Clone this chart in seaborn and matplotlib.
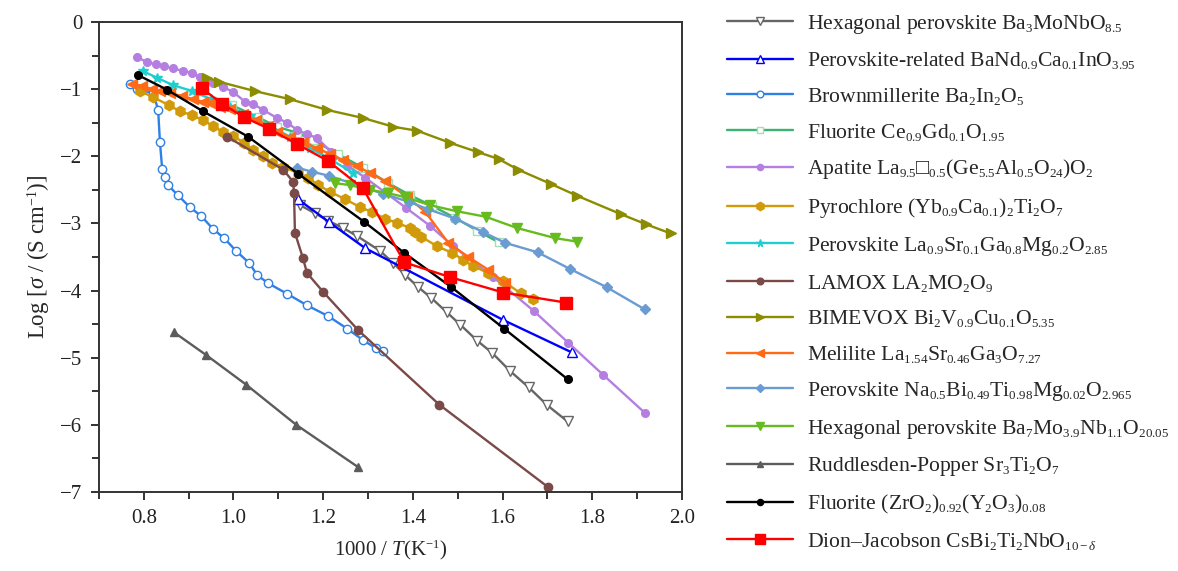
import numpy as np
import pandas as pd
import matplotlib
matplotlib.use("Agg")
import matplotlib.pyplot as plt
import matplotlib._mathtext as mathtext_core
import seaborn as sns

# ---- conductivity data: 1000/T (K^-1) and log10(sigma / S cm^-1) ----
hexp1_x = [1.149, 1.182, 1.211, 1.245, 1.276, 1.327, 1.356, 1.383, 1.412, 1.441,
           1.475, 1.506, 1.544, 1.577, 1.617, 1.658, 1.700, 1.745]
hexp1_y = [-2.73, -2.85, -2.96, -3.07, -3.19, -3.41, -3.59, -3.77, -3.95, -4.11,
           -4.32, -4.51, -4.75, -4.93, -5.20, -5.44, -5.71, -5.95]

bando_x = [1.144, 1.213, 1.294, 1.602, 1.754]
bando_y = [-2.64, -2.98, -3.37, -4.44, -4.92]

brown_x = [0.769, 0.785, 0.821, 0.832, 0.836, 0.841, 0.847, 0.854, 0.876, 0.903,
           0.928, 0.954, 0.979, 1.006, 1.035, 1.053, 1.077, 1.120, 1.164, 1.211,
           1.254, 1.289, 1.318, 1.334]
brown_y = [-0.92, -1.00, -1.06, -1.31, -1.79, -2.19, -2.31, -2.43, -2.58, -2.76,
           -2.89, -3.08, -3.22, -3.41, -3.59, -3.77, -3.89, -4.05, -4.22, -4.38,
           -4.57, -4.74, -4.86, -4.90]

cgo_x = [0.997, 1.055, 1.097, 1.142, 1.178, 1.233, 1.289, 1.345, 1.394, 1.443,
         1.495, 1.544, 1.591]
cgo_y = [-1.24, -1.42, -1.56, -1.65, -1.76, -1.97, -2.17, -2.40, -2.58, -2.74,
         -2.92, -3.11, -3.28]

apat_x = [0.785, 0.807, 0.827, 0.845, 0.865, 0.888, 0.908, 0.925, 0.954, 0.977,
          0.999, 1.026, 1.044, 1.066, 1.097, 1.120, 1.142, 1.164, 1.187, 1.218,
          1.254, 1.294, 1.385, 1.439, 1.490, 1.579, 1.669, 1.747, 1.825, 1.917]
apat_y = [-0.52, -0.60, -0.63, -0.66, -0.69, -0.73, -0.76, -0.82, -0.91, -0.97,
          -1.04, -1.19, -1.22, -1.31, -1.43, -1.50, -1.61, -1.67, -1.73, -1.94,
          -2.14, -2.32, -2.77, -3.04, -3.34, -3.80, -4.30, -4.78, -5.26, -5.82]

pyro_x = [0.792, 0.821, 0.856, 0.881, 0.908, 0.932, 0.954, 0.977, 0.999, 1.024,
          1.044, 1.066, 1.086, 1.111, 1.144, 1.167, 1.189, 1.216, 1.249, 1.283,
          1.309, 1.338, 1.365, 1.394, 1.405, 1.419, 1.454, 1.488, 1.512, 1.533,
          1.568, 1.602, 1.640, 1.667]
pyro_y = [-1.03, -1.12, -1.24, -1.33, -1.39, -1.46, -1.55, -1.64, -1.70, -1.80,
          -1.91, -2.00, -2.10, -2.16, -2.25, -2.32, -2.43, -2.53, -2.64, -2.76,
          -2.83, -2.93, -2.99, -3.07, -3.13, -3.20, -3.34, -3.44, -3.54, -3.63,
          -3.74, -3.86, -4.04, -4.13]

lsgm_x = [0.798, 0.829, 0.865, 0.908, 0.950, 0.992, 1.037, 1.082, 1.126, 1.171,
          1.220, 1.267]
lsgm_y = [-0.73, -0.83, -0.94, -1.03, -1.15, -1.27, -1.40, -1.55, -1.71, -1.88,
          -2.06, -2.25]

lamox_x = [0.986, 1.111, 1.133, 1.135, 1.137, 1.155, 1.164, 1.200, 1.278, 1.459, 1.702]
lamox_y = [-1.71, -2.20, -2.38, -2.55, -3.14, -3.52, -3.74, -4.02, -4.59, -5.70, -6.93]

bime_x = [0.941, 0.968, 1.048, 1.126, 1.209, 1.289, 1.356, 1.410, 1.483, 1.546,
          1.591, 1.635, 1.707, 1.767, 1.863, 1.919, 1.975]
bime_y = [-0.83, -0.89, -1.03, -1.15, -1.31, -1.43, -1.56, -1.62, -1.80, -1.94,
          -2.04, -2.20, -2.41, -2.59, -2.86, -3.01, -3.15]

meli_x = [0.774, 0.796, 0.818, 0.836, 0.858, 0.885, 0.910, 0.932, 0.948, 0.970,
          0.992, 1.021, 1.050, 1.077, 1.097, 1.126, 1.155, 1.187, 1.216, 1.245,
          1.276, 1.305, 1.338, 1.388, 1.428, 1.479, 1.524, 1.568, 1.606]
meli_y = [-0.92, -0.95, -1.00, -1.03, -1.06, -1.10, -1.15, -1.19, -1.21, -1.27,
          -1.30, -1.37, -1.46, -1.55, -1.64, -1.71, -1.79, -1.88, -1.97, -2.06,
          -2.15, -2.25, -2.37, -2.61, -2.83, -3.29, -3.50, -3.69, -3.89]

nbt_x = [1.142, 1.175, 1.213, 1.334, 1.392, 1.434, 1.495, 1.557, 1.606, 1.678,
         1.751, 1.832, 1.917]
nbt_y = [-2.17, -2.23, -2.29, -2.56, -2.68, -2.79, -2.93, -3.13, -3.29, -3.43,
         -3.68, -3.95, -4.28]

hexp2_x = [1.227, 1.260, 1.305, 1.345, 1.383, 1.439, 1.499, 1.562, 1.633, 1.718, 1.765]
hexp2_y = [-2.40, -2.43, -2.50, -2.55, -2.61, -2.73, -2.82, -2.90, -3.07, -3.22, -3.27]

rp_x = [0.867, 0.939, 1.028, 1.140, 1.278]
rp_y = [-4.62, -4.96, -5.40, -6.00, -6.63]

ysz_x = [0.787, 0.852, 0.932, 1.033, 1.144, 1.292, 1.381, 1.486, 1.604, 1.745]
ysz_y = [-0.79, -1.01, -1.33, -1.71, -2.26, -2.98, -3.44, -3.95, -4.57, -5.32]

dj_x = [0.930, 0.975, 1.024, 1.079, 1.142, 1.211, 1.289, 1.381, 1.483, 1.602, 1.742]
dj_y = [-0.99, -1.22, -1.42, -1.59, -1.82, -2.07, -2.48, -3.58, -3.80, -4.03, -4.18]

labels = [
    r"Hexagonal perovskite Ba$_3$MoNbO$_{8.5}$",
    r"Perovskite-related BaNd$_{0.9}$Ca$_{0.1}$InO$_{3.95}$",
    r"Brownmillerite Ba$_2$In$_2$O$_5$",
    r"Fluorite Ce$_{0.9}$Gd$_{0.1}$O$_{1.95}$",
    "Apatite La$_{9.5}$$\u25a1_{0.5}$(Ge$_{5.5}$Al$_{0.5}$O$_{24}$)O$_2$",
    r"Pyrochlore (Yb$_{0.9}$Ca$_{0.1}$)$_2$Ti$_2$O$_7$",
    r"Perovskite La$_{0.9}$Sr$_{0.1}$Ga$_{0.8}$Mg$_{0.2}$O$_{2.85}$",
    r"LAMOX LA$_2$MO$_2$O$_9$",
    r"BIMEVOX Bi$_2$V$_{0.9}$Cu$_{0.1}$O$_{5.35}$",
    r"Melilite La$_{1.54}$Sr$_{0.46}$Ga$_3$O$_{7.27}$",
    r"Perovskite Na$_{0.5}$Bi$_{0.49}$Ti$_{0.98}$Mg$_{0.02}$O$_{2.965}$",
    r"Hexagonal perovskite Ba$_7$Mo$_{3.9}$Nb$_{1.1}$O$_{20.05}$",
    r"Ruddlesden-Popper Sr$_3$Ti$_2$O$_7$",
    r"Fluorite (ZrO$_2$)$_{0.92}$(Y$_2$O$_3$)$_{0.08}$",
    r"Dion–Jacobson CsBi$_2$Ti$_2$NbO$_{10-\delta}$",
]
xs = [hexp1_x, bando_x, brown_x, cgo_x, apat_x, pyro_x, lsgm_x, lamox_x,
      bime_x, meli_x, nbt_x, hexp2_x, rp_x, ysz_x, dj_x]
ys = [hexp1_y, bando_y, brown_y, cgo_y, apat_y, pyro_y, lsgm_y, lamox_y,
      bime_y, meli_y, nbt_y, hexp2_y, rp_y, ysz_y, dj_y]

# line colour, marker, marker size, marker face, marker edge
styles = [
    ("#666666", "v", 7, "white", "#666666"),
    ("#0000ff", "^", 7, "white", "#0000ff"),
    ("#2f80e6", "o", 6, "white", "#2f80e6"),
    ("#3cb371", "s", 6, "white", "#9fe0b5"),
    ("#b47fe0", "o", 5.5, "#b47fe0", "#b47fe0"),
    ("#d09a0a", "h", 7.5, "#d09a0a", "#d09a0a"),
    ("#1fcfcf", "*", 7, "#1fcfcf", "#1fcfcf"),
    ("#7a4a48", "o", 6, "#7a4a48", "#7a4a48"),
    ("#8c8c00", ">", 7, "#8c8c00", "#8c8c00"),
    ("#ff6a16", "<", 7, "#ff6a16", "#ff6a16"),
    ("#6a9bd2", "D", 5.5, "#6a9bd2", "#6a9bd2"),
    ("#66bb1e", "v", 7, "#66bb1e", "#66bb1e"),
    ("#5c5c5c", "^", 6, "#5c5c5c", "#5c5c5c"),
    ("#000000", "o", 5.5, "#000000", "#000000"),
    ("#ff0000", "s", 9, "#ff0000", "#ff0000"),
]

frames = []
for name, x, y in zip(labels, xs, ys):
    frames.append(pd.DataFrame({"material": name, "x": x, "y": y}))
df = pd.concat(frames, ignore_index=True)

sns.set_theme(style="ticks")
plt.rcParams["font.family"] = ["Liberation Serif", "DejaVu Serif"]
plt.rcParams["mathtext.fontset"] = "custom"
plt.rcParams["mathtext.rm"] = "Liberation Serif"
plt.rcParams["mathtext.it"] = "Liberation Serif:italic"
plt.rcParams["mathtext.bf"] = "Liberation Serif:bold"
plt.rcParams["mathtext.fallback"] = "stix"
plt.rcParams["axes.unicode_minus"] = True
# slightly smaller sub/superscripts, as in typeset chemical formulas
mathtext_core.SHRINK_FACTOR = 0.6

fig = plt.figure(figsize=(11.78, 5.71), dpi=100)
ax = fig.add_axes([0.084, 0.1384, 0.4949, 0.8231])

for name, (c, m, ms, fc, ec) in zip(labels, styles):
    sub = df[df["material"] == name]
    sns.lineplot(data=sub, x="x", y="y", ax=ax, color=c, marker=m,
                 markersize=ms, markerfacecolor=fc, markeredgecolor=ec,
                 markeredgewidth=1.0, linewidth=1.7, estimator=None,
                 sort=False, label=name)

ax.set_xlim(0.7, 2.0)
ax.set_ylim(-7, 0)
ax.set_xticks(np.arange(0.8, 2.01, 0.2))
ax.set_xticks(np.arange(0.7, 2.01, 0.1), minor=True)
ax.set_yticks(np.arange(-7, 0.1, 1))
ax.set_yticks(np.arange(-7, 0.1, 0.5), minor=True)
ax.xaxis.set_major_formatter(matplotlib.ticker.FormatStrFormatter("%.1f"))
ax.tick_params(axis="both", which="major", direction="out", length=6,
               width=1.3, labelsize=15, colors="#222222", pad=6)
ax.tick_params(axis="both", which="minor", direction="out", length=5,
               width=1.3, colors="#222222")
for s in ax.spines.values():
    s.set_linewidth(1.4)
    s.set_color("#333333")

ax.set_xlabel(r"1000 / $T$(K$^{-1}$)", fontsize=15, labelpad=8)
ax.set_ylabel(r"Log [$\sigma$ / (S cm$^{-1}$)]", fontsize=16.5, labelpad=5)

handles, labs = ax.get_legend_handles_labels()
ax.get_legend().remove()
fig.legend(handles, labs, loc="upper left", bbox_to_anchor=(0.617, 0.978),
           frameon=False, fontsize=15.6, handlelength=3.05, handletextpad=0.63,
           labelspacing=0.68, borderaxespad=0, borderpad=0, markerscale=0.8)

fig.savefig("out.png", dpi=100)
